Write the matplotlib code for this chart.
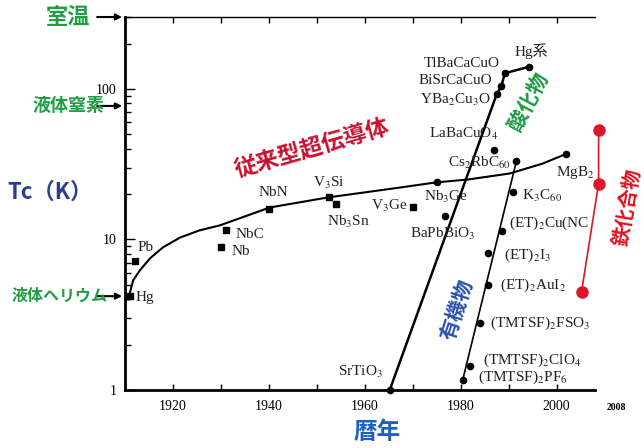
import numpy as np
import matplotlib
matplotlib.use("Agg")
import matplotlib.pyplot as plt
from matplotlib.ticker import FixedLocator, NullFormatter, LogLocator

plt.rcParams['font.family'] = ['Liberation Serif', 'DejaVu Serif']
plt.rcParams['mathtext.fontset'] = 'stix'
JP = ['Noto Sans CJK JP', 'DejaVu Sans']

# conventional (metal / intermetallic) superconductors
conv_names = ['Hg', 'Pb', 'Nb', 'NbC', 'NbN', 'V$_3$Si', 'Nb$_3$Sn', 'V$_3$Ge',
              'Nb$_3$Ge', 'BaPbBiO$_3$', 'MgB$_2$']
conv_year = [1911, 1912, 1930, 1931, 1940, 1952.5, 1954, 1970, 1975, 1976.7, 2002]
conv_tc = [4.2, 7.2, 8.9, 11.5, 16, 19, 17.3, 16.3, 23.9, 14.2, 37]

# hand-drawn trend through the conventional ones
trend_year = [1910.6, 1911.0, 1911.7, 1913.1, 1915.2, 1917.9, 1921.5, 1925.6, 1929.8,
              1940.2, 1952.3, 1967.3, 1974.8, 1981.5, 1990.2, 1997.1, 2002.1]
trend_tc = [4.0, 4.4, 5.35, 6.23, 7.48, 8.85, 10.3, 11.5, 12.4,
            16.3, 19, 22.1, 23.9, 25, 27.4, 31.9, 37.1]

# oxides
oxide_names = ['SrTiO$_3$', 'YBa$_2$Cu$_3$O', 'BiSrCaCuO', 'TlBaCaCuO', 'Hg系']
oxide_year = [1965.2, 1987.5, 1988.5, 1989.2, 1994.2]
oxide_tc = [1.0, 92, 105, 127, 140]
laba_name = 'LaBaCuO$_4$'
laba_year, laba_tc = 1986.9, 39

# organics and fullerides
org_names = ['(TMTSF)$_2$PF$_6$', '(TMTSF)$_2$ClO$_4$', '(TMTSF)$_2$FSO$_3$',
             '(ET)$_2$AuI$_2$', '(ET)$_2$I$_3$', '(ET)$_2$Cu(NC', 'K$_3$C$_{60}$',
             'Cs$_2$RbC$_{60}$']
org_year = [1980.4, 1981.9, 1984.0, 1985.6, 1985.7, 1988.7, 1990.9, 1991.6]
org_tc = [1.16, 1.44, 2.77, 5.0, 8.1, 11.3, 20.5, 33]

# iron compounds
iron_year = [2005.2, 2008.75, 2008.75]
iron_tc = [4.5, 23.5, 53.5]

# reference temperatures
ref_names = ['室温', '液体窒素', '液体ヘリウム']
ref_tc = [300, 77, 4.2]

# label offsets in pixels (dx, dy, ha)
conv_off = [(6, -1, 'left'), (3, 13, 'left'), (11, -4, 'left'), (10, -4, 'left'),
            (-10, 16, 'left'), (-16, 14, 'left'), (-9, -18, 'left'), (-5, 2, 'right'),
            (-13, -15, 'left'), (-35, -17, 'left'), (-10, -19, 'left')]
oxide_off = [(-7, 18, 'right'), (-6, -6, 'right'), (-9, 5, 'right'), (-5, 10, 'right'),
             (-14, 16, 'left')]
org_off = [(15, 3, 'left'), (13, 6, 'left'), (10, 0, 'left'), (12, -1, 'left'),
           (16, -2, 'left'), (7, 8, 'left'), (9, -3, 'left'), (-5, -2, 'right')]

fig = plt.figure(figsize=(6.44, 4.48), dpi=100)
ax = fig.add_axes([125 / 644, 58 / 448, 470 / 644, 373 / 448])
ax.set_yscale('log')
ax.set_xlim(1910, 2008)
ax.set_ylim(1, 300)

# lines
ax.plot(trend_year, trend_tc, color='black', lw=1.5, zorder=2)
ax.plot(oxide_year, oxide_tc, color='black', lw=1.8, zorder=2, clip_on=False)
ax.plot([org_year[0], org_year[-1]], [org_tc[0], org_tc[-1]], color='black', lw=1.2, zorder=2)
ax.plot(iron_year, iron_tc, color='#d9192b', lw=1.2, marker='o', ms=8,
        clip_on=False, zorder=3)

# markers
ax.plot(conv_year[:8], conv_tc[:8], 's', color='black', ms=4, zorder=3)
ax.plot(conv_year[8:], conv_tc[8:], 'o', color='black', ms=4.5, zorder=3)
ax.plot(oxide_year, oxide_tc, 'o', color='black', ms=4.5, zorder=3, clip_on=False)
ax.plot([laba_year], [laba_tc], 'o', color='black', ms=4.5, zorder=3)
ax.plot(org_year, org_tc, 'o', color='black', ms=4.5, zorder=3)


def put_labels(names, years, tcs, offs):
    for n, x, y, (dx, dy, ha) in zip(names, years, tcs, offs):
        ax.annotate(n, (x, y), xytext=(dx, dy), textcoords='offset pixels',
                    ha=ha, va='center', fontsize=11, color='#222222',
                    family=['Liberation Serif', 'Noto Sans CJK JP'],
                    annotation_clip=False)


put_labels(conv_names, conv_year, conv_tc, conv_off)
put_labels(oxide_names, oxide_year, oxide_tc, oxide_off)
put_labels(org_names, org_year, org_tc, org_off)
put_labels([laba_name], [laba_year], [laba_tc], [(4, 16, 'right')])

# group names
ax.text(1949, 40, '従来型超伝導体', rotation=16, rotation_mode='anchor', ha='center',
        va='center', fontsize=16.5, fontweight='bold', color='#c8102e', family=JP)
ax.text(1994.0, 83, '酸化物', rotation=62, rotation_mode='anchor', ha='center',
        va='center', fontsize=15, fontweight='bold', color='#1e9a45', family=JP)
ax.text(1979.2, 3.4, '有機物', rotation=72, rotation_mode='anchor', ha='center',
        va='center', fontsize=15, fontweight='bold', color='#2a4fb0', family=JP)
ax.text(2014.8, 16.3, '鉄化合物', rotation=80, rotation_mode='anchor', ha='center',
        va='center', fontsize=14, fontweight='bold', color='#e0101e', family=JP,
        clip_on=False)

# reference temperature arrows
ref_pos = [(68, 16), (68, 13), (60, 11.5)]
for name, tc, (cx, size) in zip(ref_names, ref_tc, ref_pos):
    ax.annotate('', xy=(1909.4, tc), xytext=(-25, 0), textcoords='offset pixels',
                arrowprops=dict(arrowstyle='-|>', color='black', lw=1.5,
                                mutation_scale=9, shrinkA=0, shrinkB=0),
                annotation_clip=False)
    ax.annotate(name, (1910, tc), xytext=(cx - 125, 0), textcoords='offset pixels',
                ha='center', va='center', fontsize=size, fontweight='bold',
                color='#1f9e45', family=JP, annotation_clip=False)

# axes styling
ax.spines['right'].set_visible(False)
ax.spines['left'].set_linewidth(2)
ax.spines['bottom'].set_linewidth(2)
ax.spines['top'].set_linewidth(1)
ax.set_xticks([1920, 1940, 1960, 1980, 2000])
ax.xaxis.set_minor_locator(FixedLocator(np.arange(1910, 2008, 10)))
ax.tick_params(axis='x', which='both', direction='in', top=True, length=4, width=1,
               labelsize=10, pad=7)
ax.set_yticks([1, 10, 100])
ax.set_yticklabels(['1', '10', '100'])
ax.yaxis.set_minor_locator(LogLocator(base=10, subs=np.arange(2, 10)))
ax.yaxis.set_minor_formatter(NullFormatter())
ax.tick_params(axis='y', which='major', direction='in', right=False, length=7,
               width=1, labelsize=10, pad=6)
ax.tick_params(axis='y', which='minor', direction='in', right=False, length=4, width=1)

fig.text(50 / 644, 1 - 192 / 448, 'Tc（K）', ha='center', va='center', fontsize=16,
         fontweight='bold', color='#2b3f8f', family=JP)
fig.text(377 / 644, 1 - 432 / 448, '暦年', ha='center', va='center', fontsize=17,
         fontweight='bold', color='#1f5fbf', family=JP)
fig.text(616 / 644, 1 - 407 / 448, '2008', ha='center', va='center', fontsize=7,
         fontweight='bold')

fig.savefig('out.png', dpi=100)
